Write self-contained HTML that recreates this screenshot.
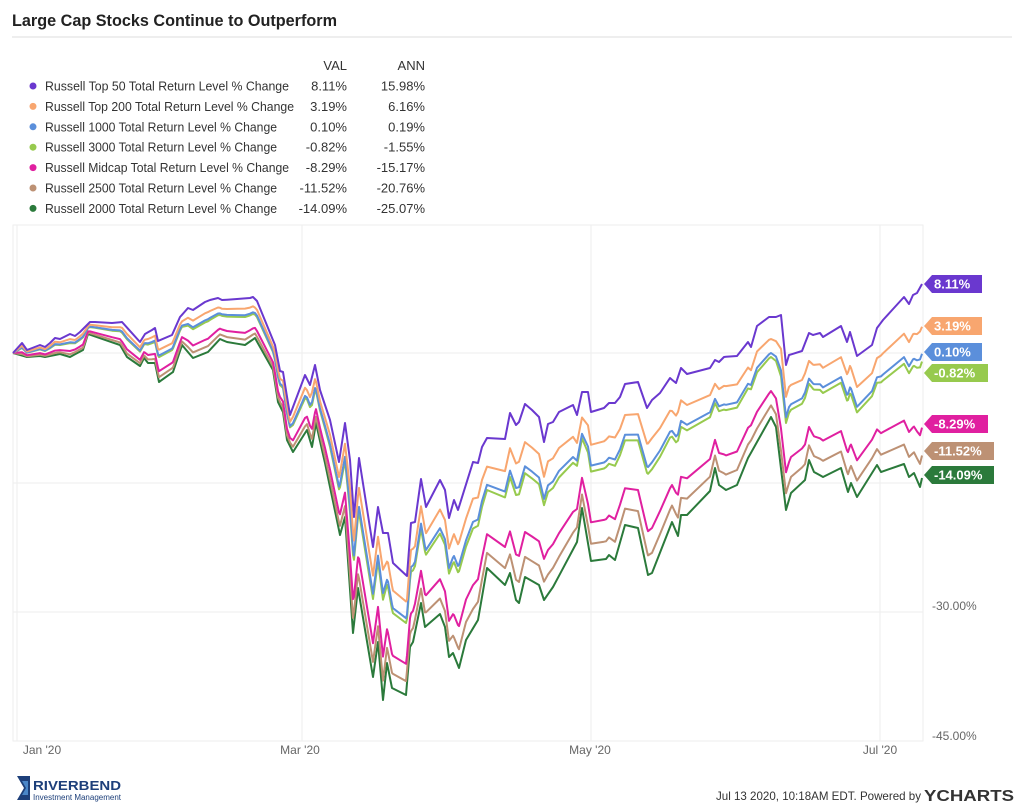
<!DOCTYPE html>
<html><head><meta charset="utf-8"><style>
html,body{margin:0;padding:0;background:#fff;}
svg{display:block;font-family:"Liberation Sans",sans-serif;}
</style></head><body>
<svg id="c" width="1024" height="810" viewBox="0 0 1024 810" xmlns="http://www.w3.org/2000/svg">
<rect width="1024" height="810" fill="#fff"/>
<text x="12" y="26" font-size="17" font-weight="bold" fill="#222" textLength="325" lengthAdjust="spacingAndGlyphs">Large Cap Stocks Continue to Outperform</text>
<line x1="12" y1="37" x2="1012" y2="37" stroke="#ddd"/>
<text x="347" y="70" font-size="13" fill="#333" text-anchor="end">VAL</text>
<text x="425" y="70" font-size="13" fill="#333" text-anchor="end">ANN</text>
<g id="legend" font-size="13" fill="#333"></g>
<rect x="13" y="225" width="910" height="516" fill="none" stroke="#eee"/>
<g stroke="#eee" stroke-width="1">
<line x1="13" y1="353" x2="923" y2="353"/>
<line x1="13" y1="483" x2="923" y2="483"/>
<line x1="13" y1="612" x2="923" y2="612"/>
<line x1="17" y1="225" x2="17" y2="741"/>
<line x1="302" y1="225" x2="302" y2="741"/>
<line x1="591" y1="225" x2="591" y2="741"/>
<line x1="880" y1="225" x2="880" y2="741"/>
</g>
<g font-size="12" fill="#666">
<text x="932" y="610">-30.00%</text>
<text x="932" y="740">-45.00%</text>
<text x="42" y="754" text-anchor="middle">Jan '20</text>
<text x="300" y="754" text-anchor="middle">Mar '20</text>
<text x="590" y="754" text-anchor="middle">May '20</text>
<text x="880" y="754" text-anchor="middle">Jul '20</text>
</g>
<g id="lines" fill="none" stroke-width="2" stroke-linejoin="round"></g>
<g id="tags" font-size="13" font-weight="bold" fill="#fff"></g>
<g>
<path d="M17 776 L30 776 L30 800 L17 800 L24 788 Z" fill="#1d3f7a"/>
<path d="M22 781 L28 781 L28 795 L22 795 L26 788 Z" fill="#4a86c8"/>
<text x="33" y="790" font-size="13" font-weight="bold" fill="#1d3f7a" textLength="88" lengthAdjust="spacingAndGlyphs">RIVERBEND</text>
<text x="33" y="800" font-size="8" fill="#1d3f7a" textLength="88" lengthAdjust="spacingAndGlyphs">Investment Management</text>
<text x="716" y="800" font-size="12" fill="#333" textLength="205" lengthAdjust="spacingAndGlyphs">Jul 13 2020, 10:18AM EDT. Powered by</text>
<text x="924" y="801" font-size="16" font-weight="bold" fill="#333" textLength="90" lengthAdjust="spacingAndGlyphs">YCHARTS</text>
</g>
</svg>
<script>
var P=[[13,353],[22,343],[27,350],[40,345],[45,347],[50,343],[55,338],[60,339],[70,334],[75,336],[80,332],[90,322],[95,322],[112,323],[122,322],[140,342],[145,334],[152,330],[155,328],[158,341],[172,335],[180,317],[188,308],[193,310],[205,302],[210,300],[218,298],[222,300],[237,299],[250,298],[253,297],[257,301],[275,345],[280,371],[283,372],[290,415],[305,375],[310,385],[315,365],[320,390],[330,420],[339,462],[345,423],[350,460],[354,517],[359,458],[373,547],[378,507],[383,533],[388,533],[393,563],[407,576],[411,523],[415,522],[421,479],[426,507],[440,480],[445,490],[449,518],[454,500],[458,510],[473,462],[478,463],[482,447],[487,438],[505,439],[510,413],[516,425],[519,422],[525,404],[532,410],[539,417],[544,442],[548,424],[553,422],[559,412],[573,405],[577,415],[582,392],[588,392],[591,412],[604,408],[609,403],[615,403],[620,397],[625,384],[638,382],[647,408],[652,400],[660,393],[670,378],[676,383],[681,368],[687,374],[710,368],[715,360],[719,362],[724,357],[737,356],[748,342],[751,347],[757,326],[769,317],[776,317],[781,315],[786,365],[789,355],[802,351],[809,333],[813,335],[820,333],[823,337],[841,326],[847,342],[850,332],[857,356],[872,345],[877,328],[883,320],[904,297],[909,304],[913,295],[917,293],[922,284]];
var G=[[13,353],[27,357],[40,356],[45,357],[55,355],[60,354],[70,357],[83,350],[88,334],[120,345],[127,357],[140,366],[144,358],[148,363],[155,363],[159,382],[173,372],[182,345],[193,358],[208,352],[220,339],[227,342],[245,345],[255,338],[273,370],[278,402],[283,412],[287,440],[293,452],[307,430],[312,447],[316,423],[322,450],[325,463],[340,535],[345,517],[353,633],[358,588],[373,677],[378,642],[383,700],[387,663],[392,688],[406,695],[410,647],[413,642],[421,603],[425,627],[440,614],[445,627],[449,657],[453,653],[459,668],[466,640],[478,620],[487,568],[505,585],[510,573],[516,600],[519,603],[525,577],[539,585],[544,600],[553,587],[577,542],[582,508],[591,561],[606,559],[609,555],[615,560],[625,525],[638,528],[648,575],[652,573],[672,522],[678,536],[681,515],[687,515],[710,491],[715,468],[719,485],[726,490],[737,485],[748,458],[757,442],[771,417],[776,427],[786,510],[791,493],[805,480],[809,460],[814,472],[823,477],[841,468],[848,492],[851,483],[857,497],[877,465],[881,472],[904,464],[909,477],[914,473],[920,487],[922,478]];
function interp(A,x){for(var i=1;i<A.length;i++){if(x<=A[i][0]){var a=A[i-1],b=A[i];var t=(x-a[0])/((b[0]-a[0])||1);return a[1]+t*(b[1]-a[1]);}}return A[A.length-1][1];}
var xs={};P.forEach(function(p){xs[p[0]]=1});G.forEach(function(p){xs[p[0]]=1});
xs=Object.keys(xs).map(Number).sort(function(a,b){return a-b});
var S=[
["#6a38cf",1,"Russell Top 50 Total Return Level % Change","8.11%","15.98%",284,54],
["#f8a66f",0.78,"Russell Top 200 Total Return Level % Change","3.19%","6.16%",326,54],
["#5b8fdb",0.64,"Russell 1000 Total Return Level % Change","0.10%","0.19%",352,54],
["#97ca4e",0.60,"Russell 3000 Total Return Level % Change","-0.82%","-1.55%",373,60],
["#e020a0",0.26,"Russell Midcap Total Return Level % Change","-8.29%","-15.17%",424,60],
["#bd9174",0.116,"Russell 2500 Total Return Level % Change","-11.52%","-20.76%",451,66],
["#2b7a3b",0,"Russell 2000 Total Return Level % Change","-14.09%","-25.07%",475,66]];
var NS="http://www.w3.org/2000/svg";
function el(n,a,t){var e=document.createElementNS(NS,n);for(var k in a)e.setAttribute(k,a[k]);if(t)e.textContent=t;return e;}
var L=document.getElementById("legend"),Ln=document.getElementById("lines"),T=document.getElementById("tags");
S.forEach(function(s,i){
 var y=86+i*20.4;
 L.appendChild(el("circle",{cx:33,cy:y,r:3.5,fill:s[0]}));
 L.appendChild(el("text",{x:45,y:y+4.5,textLength:(s[2].length*5.8).toFixed(0),lengthAdjust:"spacingAndGlyphs"},s[2]));
 L.appendChild(el("text",{x:347,y:y+4.5,"text-anchor":"end"},s[3]));
 L.appendChild(el("text",{x:425,y:y+4.5,"text-anchor":"end"},s[4]));
});
for(var i=S.length-1;i>=0;i--){var s=S[i];var d="";
 xs.forEach(function(x,j){var y=s[1]*interp(P,x)+(1-s[1])*interp(G,x);d+=(j?"L":"M")+x+" "+y.toFixed(1);});
 Ln.appendChild(el("path",{d:d,stroke:s[0]}));}
S.forEach(function(s){var c=s[5],w=s[6];
 T.appendChild(el("path",{d:"M924 "+c+" L932 "+(c-9)+" L"+(928+w)+" "+(c-9)+" L"+(928+w)+" "+(c+9)+" L932 "+(c+9)+" Z",fill:s[0]}));
 T.appendChild(el("text",{x:934,y:c+4.5},s[3]));});
</script>
</body></html>
